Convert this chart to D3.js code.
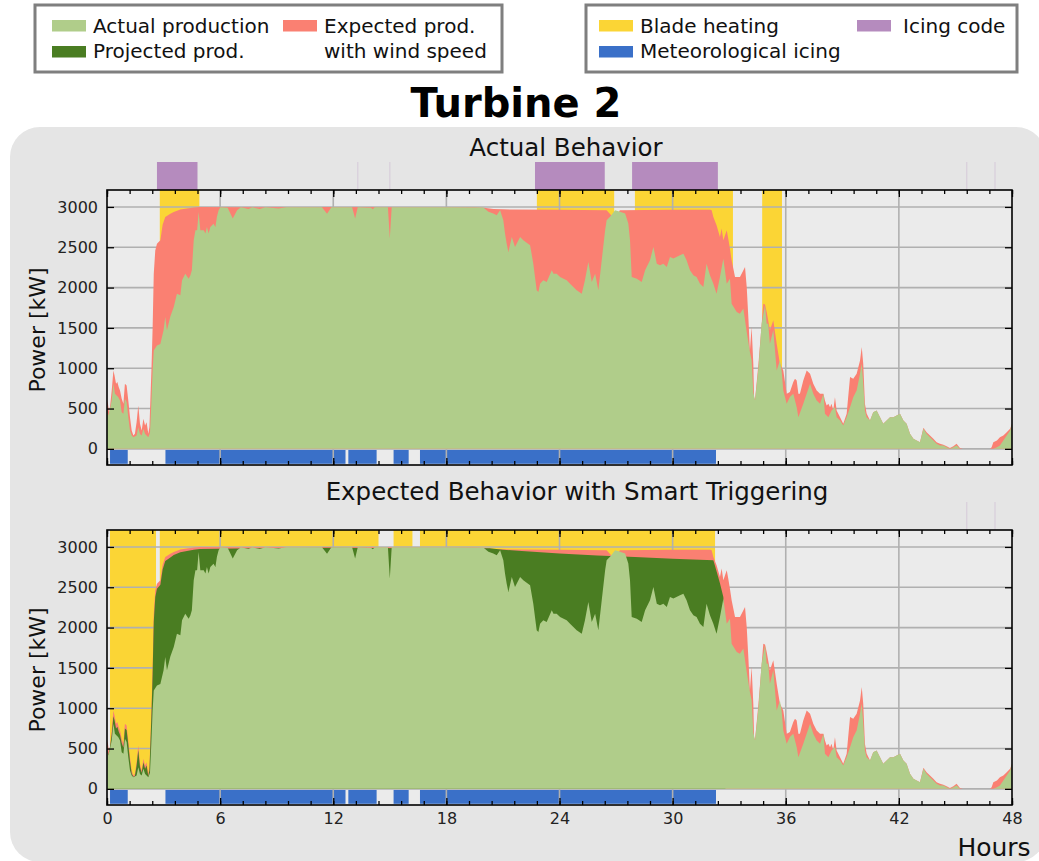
<!DOCTYPE html>
<html lang="en">
<head>
<meta charset="UTF-8" />
<title>Turbine 2</title>
<style>
  body { margin: 0; background: #fff; font-family: "DejaVu Sans", sans-serif; }
  svg { display: block; }
  .tick line { stroke: #000; stroke-width: 1.3; }
  .tick text { font-family: "DejaVu Sans", sans-serif; font-size: 16px; fill: #222; }
</style>
</head>
<body>
<svg id="chart" width="1039" height="861"></svg>
<script src="https://d3js.org/d3.v7.min.js"></script>
<script>
// power series, [hour, kW]
const actualProd = [
  [0,497],[0.07,414],[0.16,497],[0.25,600],[0.34,807],[0.42,683],[0.51,662],[0.6,640],[0.69,600],[0.78,455],
  [0.87,434],[0.95,621],[1.04,580],[1.13,393],[1.22,228],[1.31,166],[1.4,145],[1.57,165],[1.66,269],[1.75,185],
  [1.84,165],[1.93,248],[2.02,185],[2.1,165],[2.19,145],[2.28,200],[2.35,560],[2.42,973],[2.48,1220],[2.65,1283],
  [2.83,1300],[3.0,1470],[3.09,1635],[3.18,1470],[3.36,1640],[3.54,1760],[3.71,1925],[3.89,1904],[3.98,2090],[4.15,2173],
  [4.33,2110],[4.42,2150],[4.5,2214],[4.6,2587],[4.69,2711],[4.78,2711],[4.86,2938],[4.95,2711],[5.13,2711],[5.22,2670],
  [5.3,2752],[5.39,2670],[5.48,2752],[5.65,2790],[5.75,2752],[5.83,2877],[5.92,2960],[6.01,2995],[6.4,2990],[6.67,2856],
  [6.9,2960],[7.1,2995],[7.5,2975],[7.7,2995],[8.1,2975],[8.4,2995],[9.1,2980],[9.5,2995],[11.4,2995],[11.67,2917],
  [11.9,2995],[13.0,2995],[13.16,2856],[13.3,2995],[14.0,2990],[14.1,2970],[14.2,2995],[14.9,2995],[15.0,2608],[15.1,2995],
  [18,2995],[19.96,2993],[20.23,2940],[20.49,2918],[20.67,2897],[20.85,2960],[21.02,2835],[21.11,2670],[21.2,2545],[21.29,2442],
  [21.47,2628],[21.64,2504],[21.91,2628],[22.08,2587],[22.44,2525],[22.61,2297],[22.79,1966],[22.88,1945],[22.97,2049],[23.14,2090],
  [23.32,2070],[23.59,2214],[23.68,2173],[23.85,2173],[24.03,2132],[24.38,2090],[24.56,2049],[24.91,1966],[25.18,1925],[25.35,2090],
  [25.53,2318],[25.71,2070],[25.89,2173],[26.06,1966],[26.24,2339],[26.42,2711],[26.5,2835],[26.68,2877],[26.95,2960],[27.21,2940],
  [27.48,2918],[27.65,2794],[27.74,2587],[27.83,2132],[28.1,2111],[28.36,2070],[28.54,2214],[28.8,2339],[28.98,2504],[29.16,2297],
  [29.33,2277],[29.51,2297],[29.69,2256],[29.86,2380],[30.04,2360],[30.39,2400],[30.57,2421],[30.74,2339],[30.92,2214],[31.1,2152],
  [31.27,2132],[31.45,2049],[31.63,2007],[31.8,2297],[31.98,2152],[32.16,2049],[32.33,1925],[32.51,2132],[32.69,2359],[32.87,2049],
  [33.04,2111],[33.13,1800],[33.4,1697],[33.57,1676],[33.75,1740],[33.93,1450],[34.1,1200],[34.19,1100],[34.28,700],[34.37,600],
  [34.55,1000],[34.72,1550],[34.9,1780],[34.99,1552],[35.07,1552],[35.16,1304],[35.34,1470],[35.43,1221],[35.52,973],[35.69,1097],
  [35.78,973],[35.87,724],[36.05,559],[36.22,642],[36.4,683],[36.58,517],[36.67,393],[36.93,559],[37.11,683],[37.29,807],
  [37.46,683],[37.64,600],[37.82,559],[38.0,683],[38.08,435],[38.26,393],[38.43,476],[38.61,517],[38.7,393],[38.88,352],
  [39.05,290],[39.23,393],[39.41,517],[39.58,641],[39.76,724],[39.94,931],[40.03,1055],[40.11,807],[40.2,476],[40.29,393],
  [40.47,352],[40.64,455],[40.82,476],[41.0,393],[41.17,310],[41.35,352],[41.53,393],[41.71,393],[41.88,414],[42.06,435],
  [42.24,352],[42.41,310],[42.59,186],[42.77,124],[42.94,103],[43.12,83],[43.3,248],[43.47,186],[43.65,145],[43.83,103],
  [44.0,62],[44.18,41],[44.36,41],[44.53,21],[44.71,0],[44.89,21],[45.06,41],[45.24,0],[46.9,0],[47.01,0],
  [47.2,21],[47.36,41],[47.54,103],[47.72,165],[47.9,227],[48,310]
];

const expectedProd = [
  [0,599],[0.05,559],[0.12,434],[0.25,724],[0.34,973],[0.4,911],[0.48,807],[0.55,828],[0.62,766],[0.69,724],
  [0.78,621],[0.87,559],[0.95,807],[1.04,786],[1.13,600],[1.22,393],[1.31,228],[1.4,166],[1.48,186],[1.57,331],
  [1.66,538],[1.75,310],[1.84,228],[1.93,372],[2.02,290],[2.1,331],[2.19,186],[2.25,270],[2.3,600],[2.36,1000],
  [2.42,1500],[2.48,2170],[2.56,2460],[2.65,2545],[2.83,2587],[2.95,2780],[3.09,2875],[3.36,2917],[3.54,2938],[3.89,2967],
  [4.24,2980],[4.6,2992],[4.92,3000],[8,2995],[12,3000],[16,2995],[19.5,2995],[20.0,2990],[20.5,2975],[21,2970],
  [24,2965],[26.5,2960],[26.8,2880],[27.0,2880],[27.2,2960],[30,2965],[32.0,2965],[32.07,2960],[32.16,2876],[32.33,2773],
  [32.51,2628],[32.6,2732],[32.69,2587],[32.87,2711],[32.95,2608],[33.04,2480],[33.13,2338],[33.31,2132],[33.57,2132],[33.66,2173],
  [33.84,2256],[33.93,2007],[34.02,1614],[34.1,1221],[34.19,1511],[34.28,1055],[34.32,642],[34.37,610],[34.55,1050],[34.81,1800],
  [34.9,1790],[34.99,1697],[35.16,1470],[35.34,1594],[35.52,1304],[35.69,1055],[35.87,973],[36.05,683],[36.22,704],[36.4,828],
  [36.49,869],[36.58,848],[36.67,683],[36.75,683],[36.93,848],[37.11,973],[37.29,931],[37.46,807],[37.64,724],[37.82,683],
  [38.0,683],[38.08,600],[38.17,538],[38.26,559],[38.35,517],[38.43,559],[38.52,476],[38.61,641],[38.7,476],[38.88,393],
  [39.05,310],[39.23,435],[39.41,890],[39.58,869],[39.76,931],[39.94,1097],[40.03,1262],[40.11,1055],[40.2,559],[40.29,440],
  [40.47,352],[40.64,455],[40.82,476],[41.0,393],[41.17,310],[41.35,352],[41.53,393],[41.71,393],[41.88,414],[42.06,435],
  [42.24,352],[42.41,310],[42.59,186],[42.77,124],[42.94,103],[43.12,83],[43.3,262],[43.47,205],[43.65,165],[43.83,124],
  [44.0,83],[44.18,62],[44.36,52],[44.53,31],[44.71,10],[44.89,31],[45.06,62],[45.24,10],[45.4,0],[46.84,0],
  [46.92,21],[47.01,83],[47.2,103],[47.36,145],[47.54,165],[47.72,207],[47.9,248],[48,310]
];

// projected production with smart triggering (bottom panel only)
const projectedProd = [
  [0,500],[0.07,420],[0.16,520],[0.25,670],[0.34,900],[0.4,850],[0.48,750],[0.55,770],[0.62,710],[0.69,670],
  [0.78,570],[0.87,510],[0.95,750],[1.04,730],[1.13,550],[1.22,345],[1.31,190],[1.4,150],[1.48,160],[1.57,290],
  [1.66,480],[1.75,270],[1.84,200],[1.93,330],[2.02,250],[2.1,290],[2.19,160],[2.25,230],[2.3,540],[2.36,930],
  [2.42,1420],[2.48,2070],[2.56,2380],[2.65,2480],[2.83,2530],[2.95,2720],[3.09,2825],[3.36,2870],[3.54,2900],[3.89,2935],
  [4.24,2950],[4.6,2965],[4.92,2975],[8,2985],[12,2990],[16,2985],[20.3,2985],[21,2965],[22,2950],[24,2920],
  [26,2895],[28,2875],[30,2855],[32.16,2835],[32.33,2700],[32.51,2550],[32.69,2380],[32.8,1900]
];

// event periods, [start, end] in hours
const bladeHeatingActual = [[2.8,4.9],[22.8,26.9],[28.0,33.2],[34.75,35.8]];
const bladeHeatingSmart = [[0.16,2.6],[2.8,14.4],[15.2,16.2],[16.6,32.25]];
const meteoIcing = [[0.16,1.1],[3.1,12.65],[12.8,14.3],[15.2,16.0],[16.6,32.3]];
const icingCode = [[2.65,4.8],[22.7,26.4],[27.85,32.4]];
const icingBlipsTop = [13.3, 15.0, 45.6, 47.1];
const icingBlipsBottom = [45.6, 47.1];

const xTicks = [0, 6, 12, 18, 24, 30, 36, 42, 48];
const xMinorTicks = d3.range(0, 48.01, 1.2);
const yTicks = [0, 500, 1000, 1500, 2000, 2500, 3000];

const C = {
  actual: "#b0cd8a", projected: "#4a7d22", expected: "#fa8072",
  heating: "#fbd535", meteo: "#3a70c8", icing: "#b58bbe"
};

const svg = d3.select("#chart");

// rounded panel behind both plots
svg.append("rect")
  .attr("x", 10).attr("y", 127).attr("width", 1036).attr("height", 735)
  .attr("rx", 30).attr("fill", "#e5e5e5");

svg.append("text")
  .attr("x", 516).attr("y", 117).attr("text-anchor", "middle")
  .attr("font-size", 40).attr("font-weight", "bold").attr("fill", "#000")
  .text("Turbine 2");

const x = d3.scaleLinear().domain([0, 48]).range([107, 1012]);

const panels = [
  { top: 190, title: "Actual Behavior", titleX: 566, titleY: 156, heating: bladeHeatingActual,
    icing: icingCode, blips: icingBlipsTop, projected: false, xLabels: false },
  { top: 530, title: "Expected Behavior with Smart Triggering", titleX: 577, titleY: 500, heating: bladeHeatingSmart,
    icing: [], blips: icingBlipsBottom, projected: true, xLabels: true }
];

panels.forEach(p => {
  const h = 275;
  const y = d3.scaleLinear().domain([-200, 3210]).range([p.top + h, p.top]);
  const g = svg.append("g");

  g.append("rect").attr("x", x(0)).attr("y", p.top).attr("width", x(48) - x(0)).attr("height", h)
    .attr("fill", "#ebebeb");

  g.selectAll(".heat").data(p.heating).enter().append("rect")
    .attr("x", d => x(d[0])).attr("width", d => x(d[1]) - x(d[0]))
    .attr("y", y(3210)).attr("height", y(0) - y(3210))
    .attr("fill", C.heating);

  g.selectAll(".meteo").data(meteoIcing).enter().append("rect")
    .attr("x", d => x(d[0])).attr("width", d => x(d[1]) - x(d[0]))
    .attr("y", y(0) + 1).attr("height", y(-185) - y(0) - 1)
    .attr("fill", C.meteo);

  // icing code above the axes
  g.selectAll(".icing").data(p.icing).enter().append("rect")
    .attr("x", d => x(d[0])).attr("width", d => x(d[1]) - x(d[0]))
    .attr("y", p.top - 28).attr("height", 28)
    .attr("fill", C.icing);
  g.selectAll(".blip").data(p.blips).enter().append("line")
    .attr("x1", d => x(d)).attr("x2", d => x(d))
    .attr("y1", p.top - 28).attr("y2", p.top)
    .attr("stroke", C.icing).attr("stroke-opacity", 0.25).attr("stroke-width", 1.2);

  // grid
  g.selectAll(".hgrid").data(yTicks).enter().append("line")
    .attr("x1", x(0)).attr("x2", x(48)).attr("y1", d => y(d)).attr("y2", d => y(d))
    .attr("stroke", "#b0b0b0").attr("stroke-width", 1.6);
  g.selectAll(".vgrid").data(xTicks.slice(1, -1)).enter().append("line")
    .attr("x1", d => x(d)).attr("x2", d => x(d)).attr("y1", p.top).attr("y2", p.top + h)
    .attr("stroke", "#b0b0b0").attr("stroke-width", 1.6);

  const area = d3.area().x(d => x(d[0])).y0(y(0)).y1(d => y(d[1]));
  g.append("path").datum(expectedProd).attr("d", area).attr("fill", C.expected);
  if (p.projected) g.append("path").datum(projectedProd).attr("d", area).attr("fill", C.projected);
  g.append("path").datum(actualProd).attr("d", area).attr("fill", C.actual);

  // axes with inward ticks
  const bottom = g.append("g").attr("transform", `translate(0,${p.top + h})`)
    .call(d3.axisBottom(x).tickValues(xTicks).tickSize(-7).tickPadding(5)
      .tickFormat(p.xLabels ? d3.format("d") : () => ""));
  g.append("g").attr("transform", `translate(0,${p.top + h})`)
    .call(d3.axisBottom(x).tickValues(xMinorTicks).tickSize(-4).tickFormat(() => ""));
  g.append("g").attr("transform", `translate(0,${p.top})`)
    .call(d3.axisTop(x).tickValues(xTicks).tickSize(-7).tickFormat(() => ""));
  g.append("g").attr("transform", `translate(0,${p.top})`)
    .call(d3.axisTop(x).tickValues(xMinorTicks).tickSize(-4).tickFormat(() => ""));
  g.append("g").attr("transform", `translate(${x(0)},0)`)
    .call(d3.axisLeft(y).tickValues(yTicks).tickSize(-7).tickPadding(9).tickFormat(d3.format("d")));
  g.append("g").attr("transform", `translate(${x(48)},0)`)
    .call(d3.axisRight(y).tickValues(yTicks).tickSize(-7).tickFormat(() => ""));
  g.selectAll(".domain").remove();
  bottom.selectAll("text").attr("dy", "0.9em");

  g.append("rect").attr("x", x(0)).attr("y", p.top).attr("width", x(48) - x(0)).attr("height", h)
    .attr("fill", "none").attr("stroke", "#000").attr("stroke-width", 1.6);

  g.append("text").attr("x", p.titleX).attr("y", p.titleY).attr("text-anchor", "middle")
    .attr("font-size", 24.5).attr("fill", "#111").text(p.title);

  g.append("text").attr("transform", `translate(45,${p.top + 140}) rotate(-90)`)
    .attr("text-anchor", "middle").attr("font-size", 22).attr("fill", "#111").text("Power [kW]");
});

svg.append("text").attr("x", 994).attr("y", 856).attr("text-anchor", "middle")
  .attr("font-size", 25).attr("fill", "#111").text("Hours");

// legends
const legendBoxes = [
  { x: 35, y: 5, w: 467, h: 67 },
  { x: 586, y: 5, w: 431, h: 67 }
];
const legendItems = [
  { px: 52, row: 0, color: C.actual, lines: ["Actual production"] },
  { px: 52, row: 1, color: C.projected, lines: ["Projected prod."] },
  { px: 283, row: 0, color: C.expected, lines: ["Expected prod.", "with wind speed"] },
  { px: 599, row: 0, color: C.heating, lines: ["Blade heating"] },
  { px: 599, row: 1, color: C.meteo, lines: ["Meteorological icing"] },
  { px: 857, row: 0, color: C.icing, lines: ["Icing code"] }
];
svg.selectAll(".lbox").data(legendBoxes).enter().append("rect")
  .attr("x", d => d.x).attr("y", d => d.y).attr("width", d => d.w).attr("height", d => d.h)
  .attr("fill", "#fff").attr("stroke", "#7f7f7f").attr("stroke-width", 3);
const li = svg.selectAll(".litem").data(legendItems).enter().append("g");
li.append("rect").attr("x", d => d.px).attr("y", d => 20 + d.row * 26).attr("width", 34).attr("height", 11.5)
  .attr("fill", d => d.color);
li.each(function (d) {
  const t = d3.select(this).append("text").attr("font-size", 20).attr("fill", "#111");
  d.lines.forEach((s, i) => {
    t.append("tspan").attr("x", d.px + (d.px === 857 ? 46 : 41)).attr("y", 33 + (d.row + i) * 25).text(s);
  });
});
</script>
</body>
</html>
